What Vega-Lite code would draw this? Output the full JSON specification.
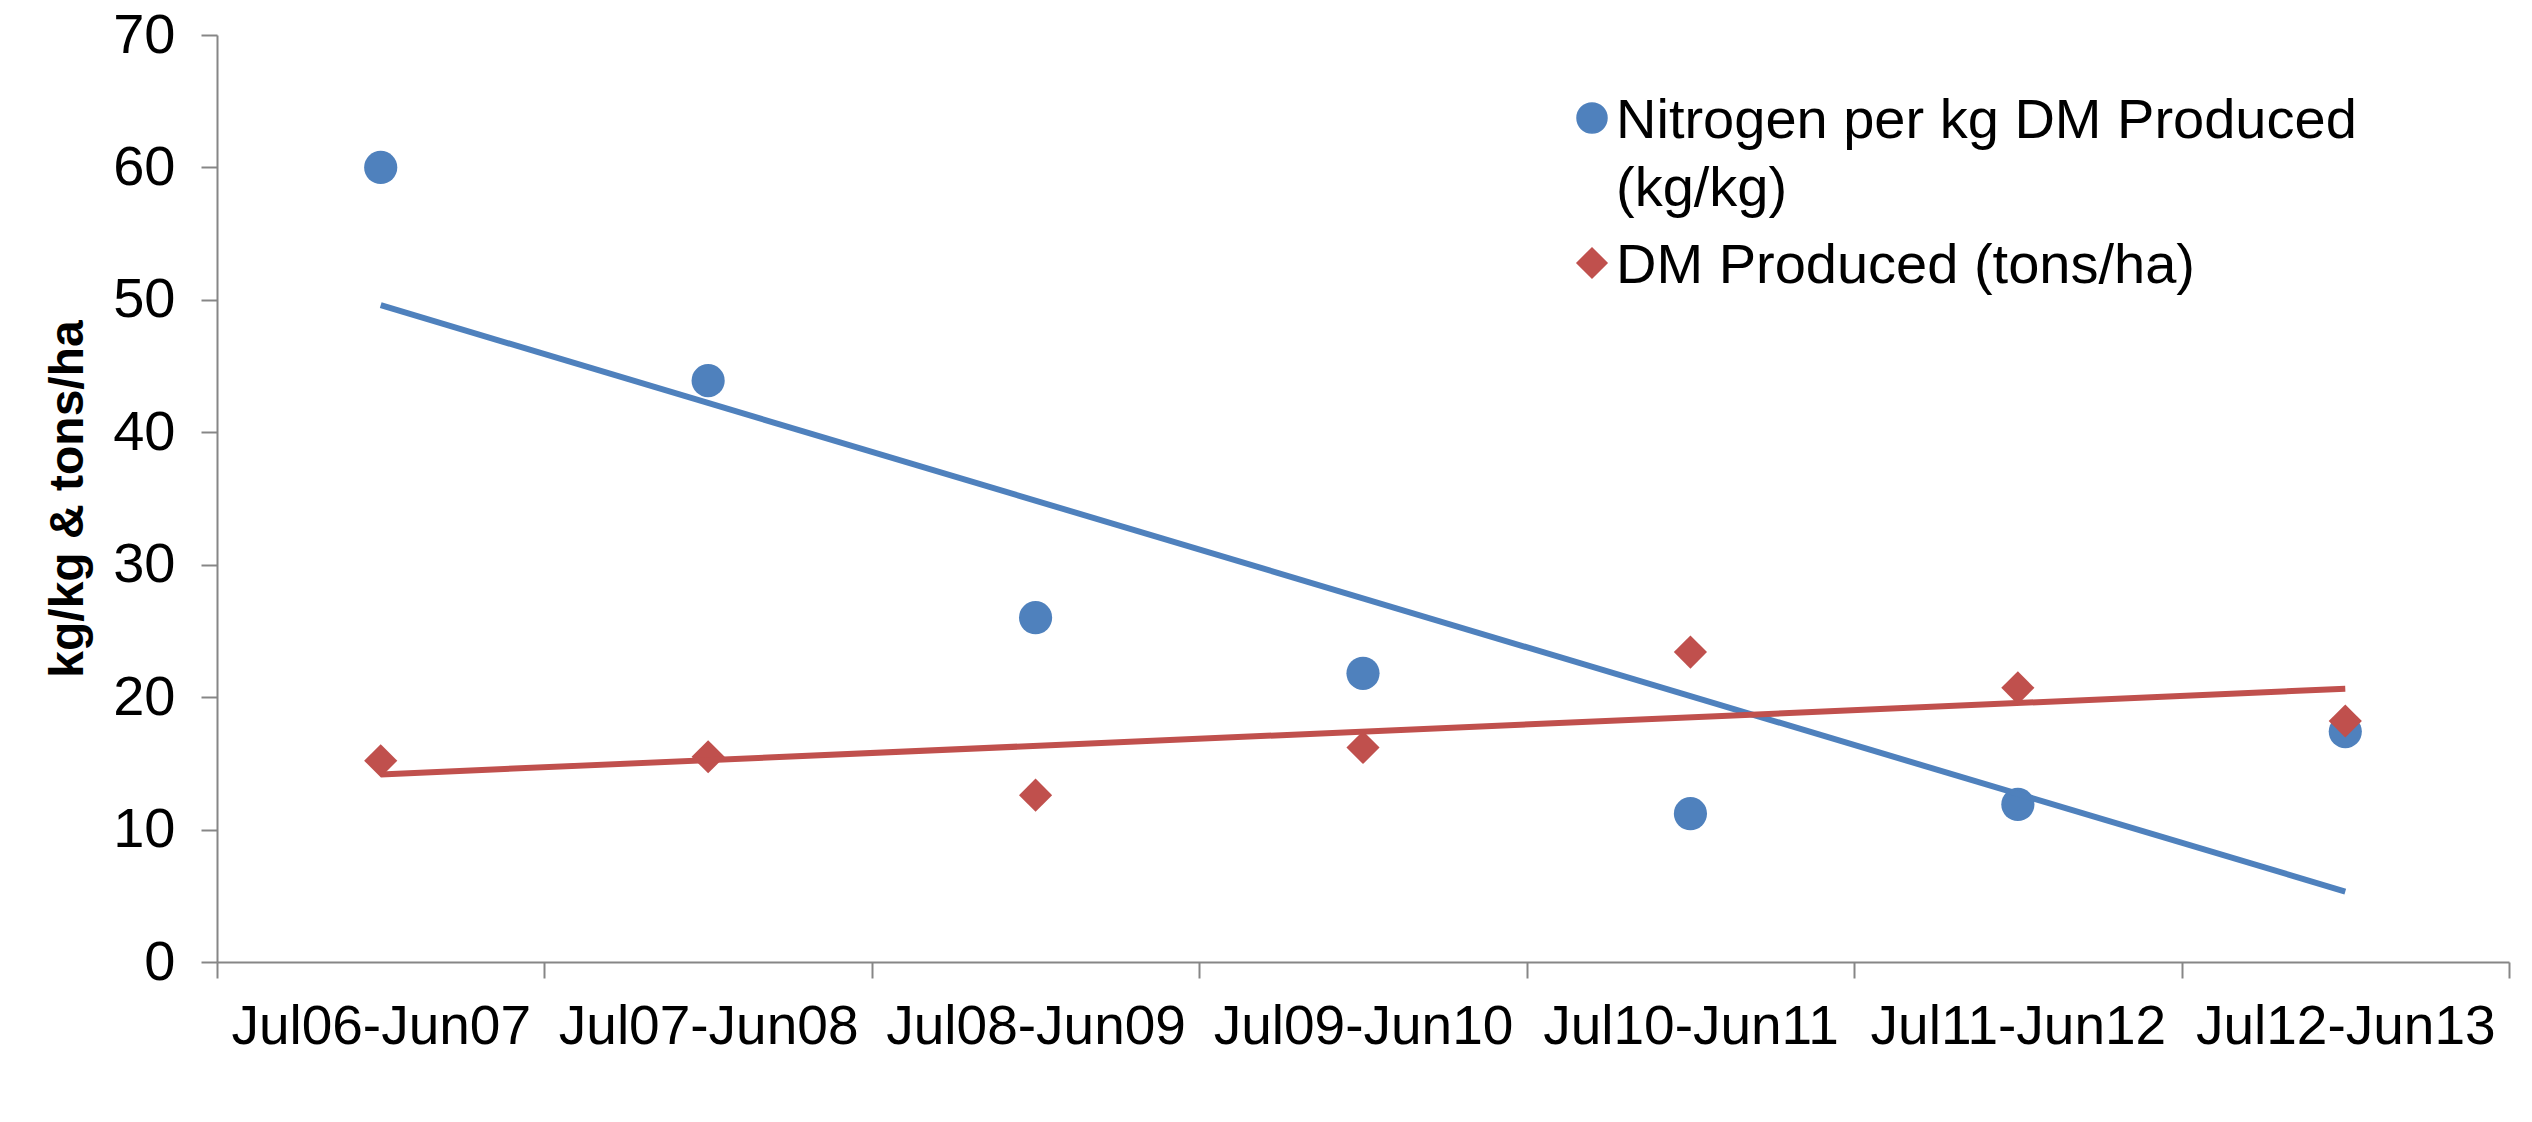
{
  "$schema": "https://vega.github.io/schema/vega-lite/v6.json",
  "width": 2292,
  "height": 927,
  "autosize": {"type": "none"},
  "padding": {"left": 217, "top": 35, "right": 23, "bottom": 160},
  "background": "white",
  "config": {
    "view": {"stroke": null},
    "font": "Liberation Sans",
    "axis": {"labelFont": "Liberation Sans", "titleFont": "Liberation Sans", "labelColor": "#000000", "titleColor": "#000000", "domainColor": "#868686", "tickColor": "#868686", "domainWidth": 2, "tickWidth": 2, "grid": false},
    "legend": {"labelFont": "Liberation Sans", "labelColor": "#000000"},
    "style": {"guide-label": {"lineHeight": 68}}
  },
  "data": {
    "values": [
      {"idx": 1, "period": "Jul06-Jun07", "series": "Nitrogen per kg DM Produced (kg/kg)", "value": 60.0},
      {"idx": 2, "period": "Jul07-Jun08", "series": "Nitrogen per kg DM Produced (kg/kg)", "value": 43.9},
      {"idx": 3, "period": "Jul08-Jun09", "series": "Nitrogen per kg DM Produced (kg/kg)", "value": 26.0},
      {"idx": 4, "period": "Jul09-Jun10", "series": "Nitrogen per kg DM Produced (kg/kg)", "value": 21.8},
      {"idx": 5, "period": "Jul10-Jun11", "series": "Nitrogen per kg DM Produced (kg/kg)", "value": 11.2},
      {"idx": 6, "period": "Jul11-Jun12", "series": "Nitrogen per kg DM Produced (kg/kg)", "value": 11.9},
      {"idx": 7, "period": "Jul12-Jun13", "series": "Nitrogen per kg DM Produced (kg/kg)", "value": 17.4},
      {"idx": 1, "period": "Jul06-Jun07", "series": "DM Produced (tons/ha)", "value": 15.2},
      {"idx": 2, "period": "Jul07-Jun08", "series": "DM Produced (tons/ha)", "value": 15.5},
      {"idx": 3, "period": "Jul08-Jun09", "series": "DM Produced (tons/ha)", "value": 12.6},
      {"idx": 4, "period": "Jul09-Jun10", "series": "DM Produced (tons/ha)", "value": 16.2},
      {"idx": 5, "period": "Jul10-Jun11", "series": "DM Produced (tons/ha)", "value": 23.4},
      {"idx": 6, "period": "Jul11-Jun12", "series": "DM Produced (tons/ha)", "value": 20.7},
      {"idx": 7, "period": "Jul12-Jun13", "series": "DM Produced (tons/ha)", "value": 18.2}
    ]
  },
  "encoding": {
    "x": {
      "field": "idx", "type": "quantitative",
      "scale": {"domain": [0.5, 7.5], "nice": false, "zero": false},
      "axis": {
        "title": null,
        "values": [0.5, 1, 1.5, 2, 2.5, 3, 3.5, 4, 4.5, 5, 5.5, 6, 6.5, 7, 7.5],
        "tickSize": 16,
        "tickOpacity": {"condition": {"test": "datum.value % 1 == 0", "value": 0}, "value": 1},
        "labelExpr": "datum.value % 1 == 0 ? ['', 'Jul06-Jun07', 'Jul07-Jun08', 'Jul08-Jun09', 'Jul09-Jun10', 'Jul10-Jun11', 'Jul11-Jun12', 'Jul12-Jun13'][datum.value] : ''",
        "labelFontSize": 55,
        "labelPadding": 22,
        "labelLimit": 600,
        "labelOverlap": false,
        "labelBound": false,
        "labelFlush": false
      }
    },
    "y": {
      "field": "value", "type": "quantitative",
      "scale": {"domain": [0, 70], "nice": false},
      "axis": {
        "title": "kg/kg & tons/ha",
        "titleFontSize": 48,
        "titleFontWeight": "bold",
        "titlePadding": 20,
        "values": [0, 10, 20, 30, 40, 50, 60, 70],
        "tickSize": 16,
        "labelFontSize": 56,
        "labelPadding": 26
      }
    },
    "color": {
      "field": "series", "type": "nominal",
      "scale": {"domain": ["Nitrogen per kg DM Produced (kg/kg)", "DM Produced (tons/ha)"], "range": ["#4F81BD", "#C0504D"]},
      "legend": {
        "title": null,
        "orient": "none",
        "legendX": 1347,
        "legendY": 55,
        "labelFontSize": 56,
        "labelBaseline": "top",
        "labelOffset": -4,
        "symbolSize": 900,
        "rowPadding": 18,
        "labelLimit": 1000,
        "labelExpr": "datum.label == 'Nitrogen per kg DM Produced (kg/kg)' ? ['Nitrogen per kg DM Produced', '(kg/kg)'] : datum.label",
        "encode": {"labels": {"update": {"dy": {"value": -24}}}}
      }
    }
  },
  "layer": [
    {
      "mark": {"type": "point", "filled": true, "opacity": 1, "size": 1100},
      "encoding": {
        "shape": {
          "field": "series", "type": "nominal",
          "scale": {"domain": ["Nitrogen per kg DM Produced (kg/kg)", "DM Produced (tons/ha)"], "range": ["circle", "diamond"]},
          "legend": {
            "title": null,
            "orient": "none",
            "legendX": 1347,
            "legendY": 55,
            "labelFontSize": 56,
            "labelBaseline": "top",
            "labelOffset": -4,
            "symbolSize": 900,
            "rowPadding": 18,
            "labelLimit": 1000,
            "labelExpr": "datum.label == 'Nitrogen per kg DM Produced (kg/kg)' ? ['Nitrogen per kg DM Produced', '(kg/kg)'] : datum.label",
            "encode": {"labels": {"update": {"dy": {"value": -24}}}}
          }
        }
      }
    },
    {
      "transform": [
        {"regression": "value", "on": "idx", "groupby": ["series"], "extent": [1, 7]}
      ],
      "mark": {"type": "line", "strokeWidth": 6},
      "encoding": {}
    }
  ]
}
